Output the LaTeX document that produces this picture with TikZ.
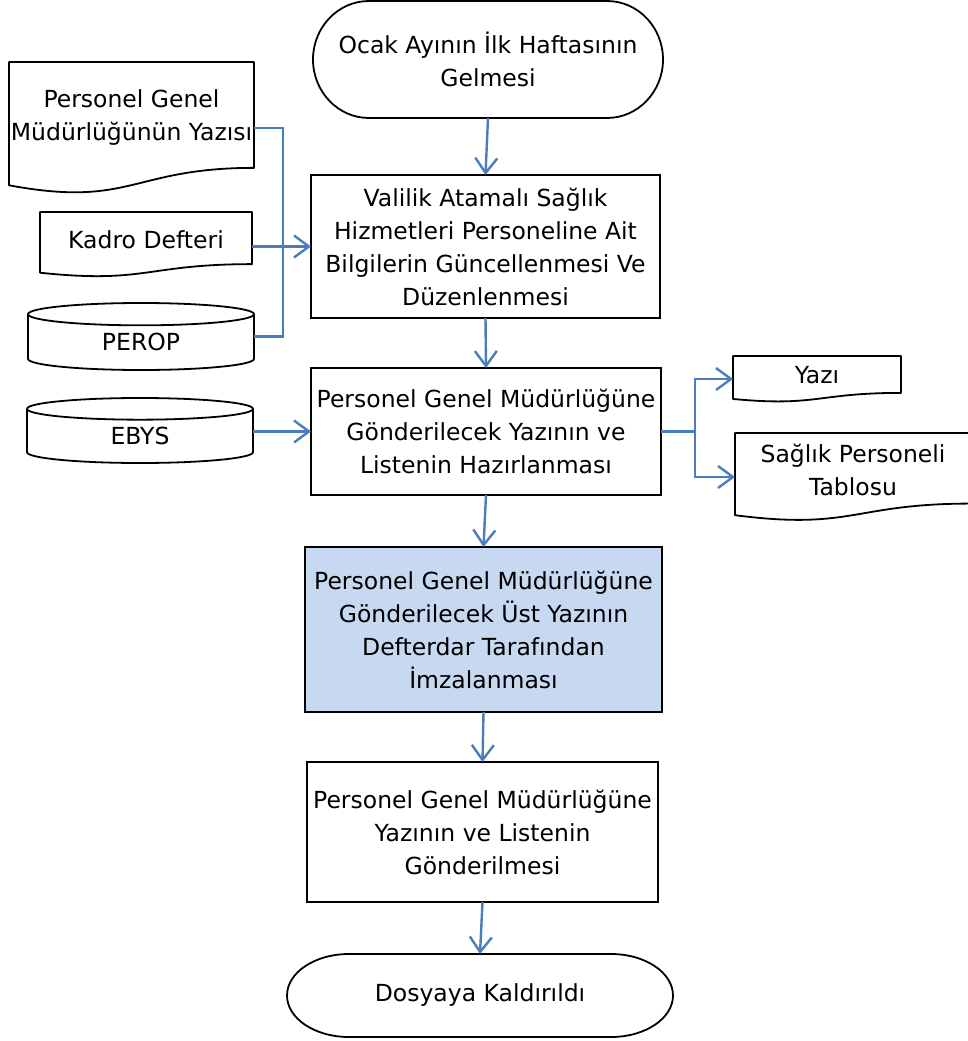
\documentclass[tikz,border=0pt]{standalone}
\usepackage{fontspec}
\setmainfont{DejaVu Sans}
\usetikzlibrary{arrows.meta,calc}
\definecolor{linkblue}{HTML}{4A7EBB}
\definecolor{procfill}{HTML}{C6D9F1}
\newcommand\fs{\fontsize{23.5}{33}\selectfont}
\tikzset{
  shapeline/.style={draw=black, line width=1.8pt, line join=round},
  shapebox/.style={inner sep=0pt, outer sep=0pt},
  txt/.style={align=center, inner sep=0pt, font=\fs},
  procbox/.style={shapebox, draw=black, line width=1.8pt, align=center, font=\fs},
  conn/.style={draw=linkblue, line width=2.4pt},
  arr/.style={conn, -{Straight Barb[length=15pt, width=22pt, line width=2.4pt]}},
}
% document: name, cx, top, w, h, text
\newcommand\docnode[6]{%
  \node[shapebox, minimum width=#4pt, minimum height=#5pt] (#1) at (#2,#3+#5/2) {};
  \draw[shapeline] (#1.north west) -- (#1.north east)
    -- ($(#1.north east)!0.802!(#1.south east)$)
    .. controls ($(#1.north)!0.802!(#1.south)$) and ($(#1.north)!1.107!(#1.south)$)
    .. ($(#1.north west)!0.934!(#1.south west)$) -- cycle;
  \node[txt] (#1-t) at (#2,#3+0.42*#5) {#6};
}
% cylinder: name, cx, top, w, h, text
\newcommand\cylnode[6]{%
  \node[shapebox, minimum width=#4pt, minimum height=#5pt] (#1) at (#2,#3+#5/2) {};
  \draw[shapeline] (#1.north west) ++(0,#5/6) arc[start angle=180, end angle=-180, x radius={#4pt/2}, y radius={#5pt/6}];
  \draw[shapeline] (#1.north west) ++(0,#5/6) -- ($(#1.south west)+(0,-#5/6)$)
    arc[start angle=180, end angle=360, x radius={#4pt/2}, y radius={#5pt/6}]
    -- ($(#1.north east)+(0,#5/6)$);
  \node[txt] (#1-t) at (#2,#3+0.58*#5) {#6};
}
% terminator: name, cx, cy, w, h, rx, text
\newcommand\termnode[7]{%
  \node[shapebox, minimum width=#4pt, minimum height=#5pt, align=center, font=\fs] (#1) at (#2,#3) {#7};
  \draw[shapeline] ($(#1.north west)+(#6,0)$) -- ($(#1.north east)+(-#6,0)$)
    arc[start angle=90, end angle=-90, x radius={#6pt}, y radius={#5pt/2}]
    -- ($(#1.south west)+(#6,0)$)
    arc[start angle=270, end angle=90, x radius={#6pt}, y radius={#5pt/2}] -- cycle;
}
\begin{document}
\begin{tikzpicture}[x=1pt,y=-1pt]
\useasboundingbox (0,0) rectangle (968,1041);

% main flow
\termnode{t1}{488}{59.5}{350}{117}{56}{Ocak Ayının İlk Haftasının\\Gelmesi}
\node[procbox, minimum width=349pt, minimum height=143pt] (b2) at (485.5,246.5)
  {Valilik Atamalı Sağlık\\Hizmetleri Personeline Ait\\Bilgilerin Güncellenmesi Ve\\Düzenlenmesi};
\node[procbox, minimum width=350pt, minimum height=127pt] (b3) at (486,431.5)
  {Personel Genel Müdürlüğüne\\Gönderilecek Yazının ve\\Listenin Hazırlanması};
\node[procbox, fill=procfill, minimum width=357pt, minimum height=165pt] (b4) at (483.5,629.5)
  {Personel Genel Müdürlüğüne\\Gönderilecek Üst Yazının\\Defterdar Tarafından\\İmzalanması};
\node[procbox, minimum width=351pt, minimum height=140pt] (b5) at (482.5,832)
  {Personel Genel Müdürlüğüne\\Yazının ve Listenin\\Gönderilmesi};
\termnode{t2}{480}{995.5}{386}{83}{62}{Dosyaya Kaldırıldı}

% inputs
\docnode{d1}{131.5}{62}{245}{132}{Personel Genel\\Müdürlüğünün Yazısı}
\docnode{d2}{146}{212}{212}{65}{Kadro Defteri}
\cylnode{c1}{141}{303}{226}{67}{PEROP}
\cylnode{c2}{140}{398}{226}{65}{EBYS}

% outputs
\docnode{d3}{817}{356}{168}{46}{Yazı}
\docnode{d4}{853}{433}{236}{88}{Sağlık Personeli\\Tablosu}

% connectors
\draw[arr] (t1.south) -- (b2.north);
\draw[arr] (b2.south) -- (b3.north);
\draw[arr] (b3.south) -- (b4.north);
\draw[arr] (b4.south) -- (b5.north);
\draw[arr] (b5.south) -- (t2.north);

\coordinate (jl) at (283,246.5);
\draw[conn] (d1.east) -| (jl) |- (c1.east);
\draw[arr] (d2.east |- b2.west) -- (b2.west);
\draw[arr] (c2.east |- b3.west) -- (b3.west);

\coordinate (jr) at (695,431.5);
\draw[conn] (b3.east) -- (jr);
\draw[arr] (jr) |- (d3.west);
\draw[arr] (jr) |- (d4.west);
\end{tikzpicture}
\end{document}
